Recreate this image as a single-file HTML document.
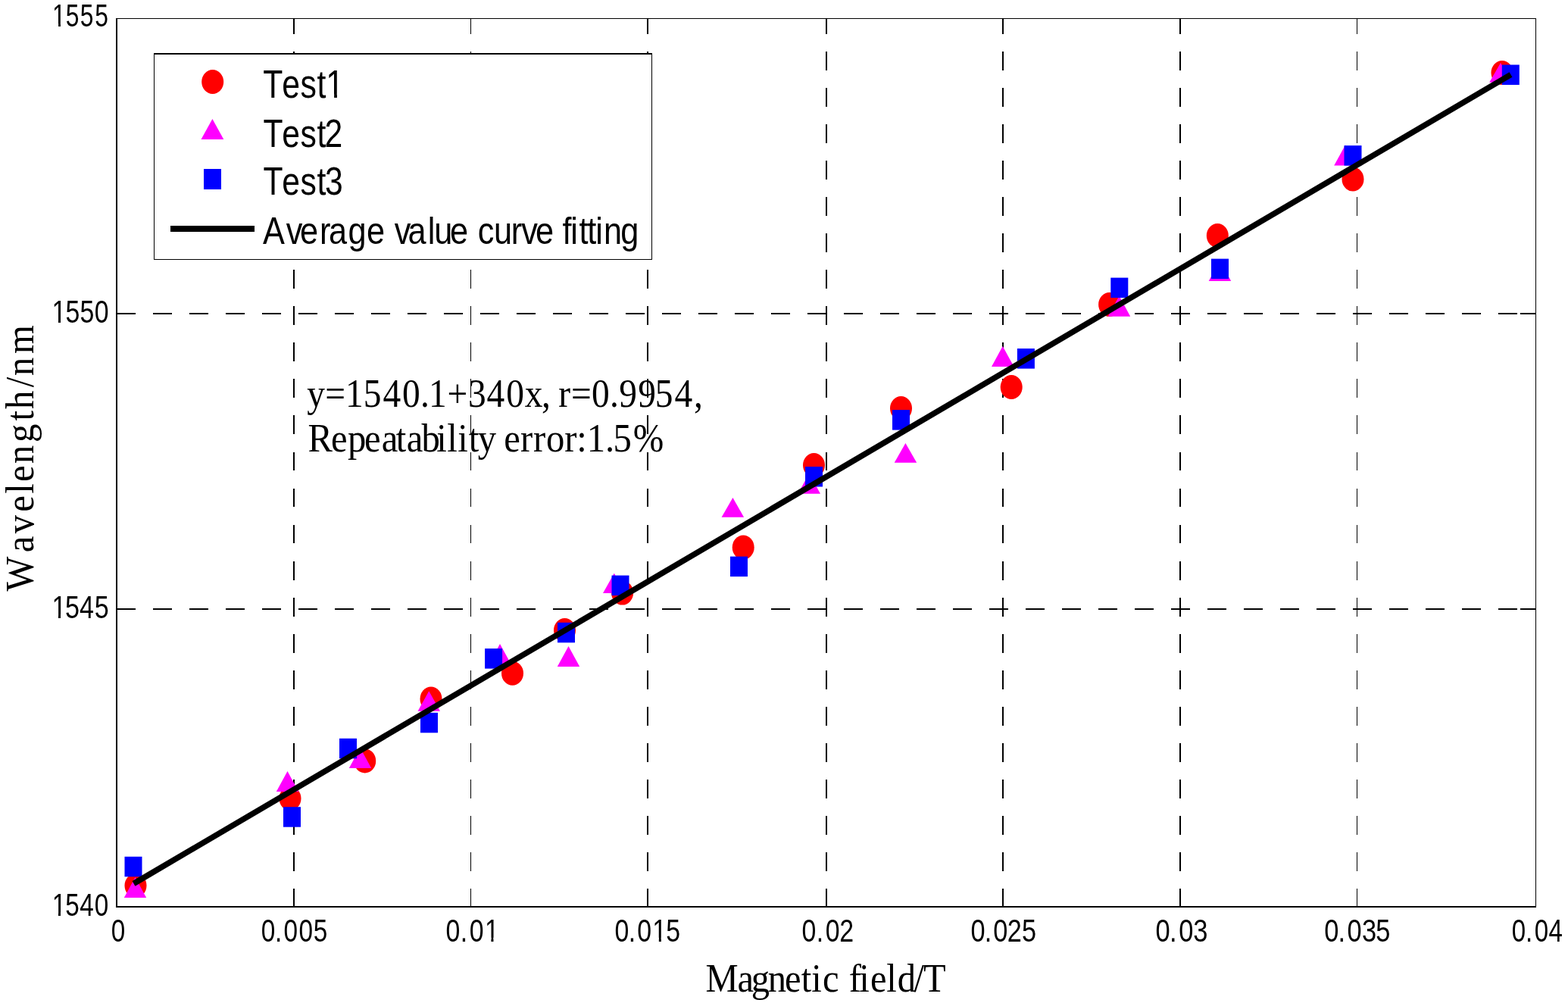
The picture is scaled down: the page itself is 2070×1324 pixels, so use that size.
<!DOCTYPE html>
<html><head><meta charset="utf-8"><title>Wavelength vs Magnetic field</title>
<style>html,body{margin:0;padding:0;background:#fff;overflow:hidden}svg{display:block}text{font-variant-ligatures:none;font-kerning:none}</style>
</head><body>
<svg width="2070" height="1324" viewBox="0 0 2070 1324">
<rect width="2070" height="1324" fill="#fff"/>
<g shape-rendering="crispEdges">
<rect x="387" y="24" width="2" height="21" fill="#000"/>
<rect x="387" y="68" width="2" height="25" fill="#000"/>
<rect x="387" y="116" width="2" height="25" fill="#000"/>
<rect x="387" y="164" width="2" height="25" fill="#000"/>
<rect x="387" y="212" width="2" height="25" fill="#000"/>
<rect x="387" y="260" width="2" height="25" fill="#000"/>
<rect x="387" y="308" width="2" height="25" fill="#000"/>
<rect x="387" y="356" width="2" height="25" fill="#000"/>
<rect x="387" y="404" width="2" height="25" fill="#000"/>
<rect x="387" y="452" width="2" height="25" fill="#000"/>
<rect x="387" y="500" width="2" height="25" fill="#000"/>
<rect x="387" y="548" width="2" height="25" fill="#000"/>
<rect x="387" y="597" width="2" height="24" fill="#000"/>
<rect x="387" y="645" width="2" height="24" fill="#000"/>
<rect x="387" y="693" width="2" height="24" fill="#000"/>
<rect x="387" y="741" width="2" height="25" fill="#000"/>
<rect x="387" y="789" width="2" height="25" fill="#000"/>
<rect x="387" y="837" width="2" height="25" fill="#000"/>
<rect x="387" y="885" width="2" height="25" fill="#000"/>
<rect x="387" y="933" width="2" height="25" fill="#000"/>
<rect x="387" y="981" width="2" height="25" fill="#000"/>
<rect x="387" y="1029" width="2" height="25" fill="#000"/>
<rect x="387" y="1077" width="2" height="25" fill="#000"/>
<rect x="387" y="1125" width="2" height="25" fill="#000"/>
<rect x="387" y="1173" width="2" height="24" fill="#000"/>
<rect x="621" y="24" width="1" height="21" fill="#000"/>
<rect x="621" y="68" width="1" height="25" fill="#000"/>
<rect x="621" y="116" width="1" height="25" fill="#000"/>
<rect x="621" y="164" width="1" height="25" fill="#000"/>
<rect x="621" y="212" width="1" height="25" fill="#000"/>
<rect x="621" y="260" width="1" height="25" fill="#000"/>
<rect x="621" y="308" width="1" height="25" fill="#000"/>
<rect x="621" y="356" width="1" height="25" fill="#000"/>
<rect x="621" y="404" width="1" height="25" fill="#000"/>
<rect x="621" y="452" width="1" height="25" fill="#000"/>
<rect x="621" y="500" width="1" height="25" fill="#000"/>
<rect x="621" y="548" width="1" height="25" fill="#000"/>
<rect x="621" y="597" width="1" height="24" fill="#000"/>
<rect x="621" y="645" width="1" height="24" fill="#000"/>
<rect x="621" y="693" width="1" height="24" fill="#000"/>
<rect x="621" y="741" width="1" height="25" fill="#000"/>
<rect x="621" y="789" width="1" height="25" fill="#000"/>
<rect x="621" y="837" width="1" height="25" fill="#000"/>
<rect x="621" y="885" width="1" height="25" fill="#000"/>
<rect x="621" y="933" width="1" height="25" fill="#000"/>
<rect x="621" y="981" width="1" height="25" fill="#000"/>
<rect x="621" y="1029" width="1" height="25" fill="#000"/>
<rect x="621" y="1077" width="1" height="25" fill="#000"/>
<rect x="621" y="1125" width="1" height="25" fill="#000"/>
<rect x="621" y="1173" width="1" height="24" fill="#000"/>
<rect x="854" y="24" width="2" height="21" fill="#000"/>
<rect x="854" y="68" width="2" height="25" fill="#000"/>
<rect x="854" y="116" width="2" height="25" fill="#000"/>
<rect x="854" y="164" width="2" height="25" fill="#000"/>
<rect x="854" y="212" width="2" height="25" fill="#000"/>
<rect x="854" y="260" width="2" height="25" fill="#000"/>
<rect x="854" y="308" width="2" height="25" fill="#000"/>
<rect x="854" y="356" width="2" height="25" fill="#000"/>
<rect x="854" y="404" width="2" height="25" fill="#000"/>
<rect x="854" y="452" width="2" height="25" fill="#000"/>
<rect x="854" y="500" width="2" height="25" fill="#000"/>
<rect x="854" y="548" width="2" height="25" fill="#000"/>
<rect x="854" y="597" width="2" height="24" fill="#000"/>
<rect x="854" y="645" width="2" height="24" fill="#000"/>
<rect x="854" y="693" width="2" height="24" fill="#000"/>
<rect x="854" y="741" width="2" height="25" fill="#000"/>
<rect x="854" y="789" width="2" height="25" fill="#000"/>
<rect x="854" y="837" width="2" height="25" fill="#000"/>
<rect x="854" y="885" width="2" height="25" fill="#000"/>
<rect x="854" y="933" width="2" height="25" fill="#000"/>
<rect x="854" y="981" width="2" height="25" fill="#000"/>
<rect x="854" y="1029" width="2" height="25" fill="#000"/>
<rect x="854" y="1077" width="2" height="25" fill="#000"/>
<rect x="854" y="1125" width="2" height="25" fill="#000"/>
<rect x="854" y="1173" width="2" height="24" fill="#000"/>
<rect x="1090" y="24" width="2" height="21" fill="#000"/>
<rect x="1090" y="68" width="2" height="25" fill="#000"/>
<rect x="1090" y="116" width="2" height="25" fill="#000"/>
<rect x="1090" y="164" width="2" height="25" fill="#000"/>
<rect x="1090" y="212" width="2" height="25" fill="#000"/>
<rect x="1090" y="260" width="2" height="25" fill="#000"/>
<rect x="1090" y="308" width="2" height="25" fill="#000"/>
<rect x="1090" y="356" width="2" height="25" fill="#000"/>
<rect x="1090" y="404" width="2" height="25" fill="#000"/>
<rect x="1090" y="452" width="2" height="25" fill="#000"/>
<rect x="1090" y="500" width="2" height="25" fill="#000"/>
<rect x="1090" y="548" width="2" height="25" fill="#000"/>
<rect x="1090" y="597" width="2" height="24" fill="#000"/>
<rect x="1090" y="645" width="2" height="24" fill="#000"/>
<rect x="1090" y="693" width="2" height="24" fill="#000"/>
<rect x="1090" y="741" width="2" height="25" fill="#000"/>
<rect x="1090" y="789" width="2" height="25" fill="#000"/>
<rect x="1090" y="837" width="2" height="25" fill="#000"/>
<rect x="1090" y="885" width="2" height="25" fill="#000"/>
<rect x="1090" y="933" width="2" height="25" fill="#000"/>
<rect x="1090" y="981" width="2" height="25" fill="#000"/>
<rect x="1090" y="1029" width="2" height="25" fill="#000"/>
<rect x="1090" y="1077" width="2" height="25" fill="#000"/>
<rect x="1090" y="1125" width="2" height="25" fill="#000"/>
<rect x="1090" y="1173" width="2" height="24" fill="#000"/>
<rect x="1323" y="24" width="2" height="21" fill="#000"/>
<rect x="1323" y="68" width="2" height="25" fill="#000"/>
<rect x="1323" y="116" width="2" height="25" fill="#000"/>
<rect x="1323" y="164" width="2" height="25" fill="#000"/>
<rect x="1323" y="212" width="2" height="25" fill="#000"/>
<rect x="1323" y="260" width="2" height="25" fill="#000"/>
<rect x="1323" y="308" width="2" height="25" fill="#000"/>
<rect x="1323" y="356" width="2" height="25" fill="#000"/>
<rect x="1323" y="404" width="2" height="25" fill="#000"/>
<rect x="1323" y="452" width="2" height="25" fill="#000"/>
<rect x="1323" y="500" width="2" height="25" fill="#000"/>
<rect x="1323" y="548" width="2" height="25" fill="#000"/>
<rect x="1323" y="597" width="2" height="24" fill="#000"/>
<rect x="1323" y="645" width="2" height="24" fill="#000"/>
<rect x="1323" y="693" width="2" height="24" fill="#000"/>
<rect x="1323" y="741" width="2" height="25" fill="#000"/>
<rect x="1323" y="789" width="2" height="25" fill="#000"/>
<rect x="1323" y="837" width="2" height="25" fill="#000"/>
<rect x="1323" y="885" width="2" height="25" fill="#000"/>
<rect x="1323" y="933" width="2" height="25" fill="#000"/>
<rect x="1323" y="981" width="2" height="25" fill="#000"/>
<rect x="1323" y="1029" width="2" height="25" fill="#000"/>
<rect x="1323" y="1077" width="2" height="25" fill="#000"/>
<rect x="1323" y="1125" width="2" height="25" fill="#000"/>
<rect x="1323" y="1173" width="2" height="24" fill="#000"/>
<rect x="1557" y="24" width="2" height="21" fill="#000"/>
<rect x="1557" y="68" width="2" height="25" fill="#000"/>
<rect x="1557" y="116" width="2" height="25" fill="#000"/>
<rect x="1557" y="164" width="2" height="25" fill="#000"/>
<rect x="1557" y="212" width="2" height="25" fill="#000"/>
<rect x="1557" y="260" width="2" height="25" fill="#000"/>
<rect x="1557" y="308" width="2" height="25" fill="#000"/>
<rect x="1557" y="356" width="2" height="25" fill="#000"/>
<rect x="1557" y="404" width="2" height="25" fill="#000"/>
<rect x="1557" y="452" width="2" height="25" fill="#000"/>
<rect x="1557" y="500" width="2" height="25" fill="#000"/>
<rect x="1557" y="548" width="2" height="25" fill="#000"/>
<rect x="1557" y="597" width="2" height="24" fill="#000"/>
<rect x="1557" y="645" width="2" height="24" fill="#000"/>
<rect x="1557" y="693" width="2" height="24" fill="#000"/>
<rect x="1557" y="741" width="2" height="25" fill="#000"/>
<rect x="1557" y="789" width="2" height="25" fill="#000"/>
<rect x="1557" y="837" width="2" height="25" fill="#000"/>
<rect x="1557" y="885" width="2" height="25" fill="#000"/>
<rect x="1557" y="933" width="2" height="25" fill="#000"/>
<rect x="1557" y="981" width="2" height="25" fill="#000"/>
<rect x="1557" y="1029" width="2" height="25" fill="#000"/>
<rect x="1557" y="1077" width="2" height="25" fill="#000"/>
<rect x="1557" y="1125" width="2" height="25" fill="#000"/>
<rect x="1557" y="1173" width="2" height="24" fill="#000"/>
<rect x="1791" y="24" width="1" height="21" fill="#000"/>
<rect x="1791" y="68" width="1" height="25" fill="#000"/>
<rect x="1791" y="116" width="1" height="25" fill="#000"/>
<rect x="1791" y="164" width="1" height="25" fill="#000"/>
<rect x="1791" y="212" width="1" height="25" fill="#000"/>
<rect x="1791" y="260" width="1" height="25" fill="#000"/>
<rect x="1791" y="308" width="1" height="25" fill="#000"/>
<rect x="1791" y="356" width="1" height="25" fill="#000"/>
<rect x="1791" y="404" width="1" height="25" fill="#000"/>
<rect x="1791" y="452" width="1" height="25" fill="#000"/>
<rect x="1791" y="500" width="1" height="25" fill="#000"/>
<rect x="1791" y="548" width="1" height="25" fill="#000"/>
<rect x="1791" y="597" width="1" height="24" fill="#000"/>
<rect x="1791" y="645" width="1" height="24" fill="#000"/>
<rect x="1791" y="693" width="1" height="24" fill="#000"/>
<rect x="1791" y="741" width="1" height="25" fill="#000"/>
<rect x="1791" y="789" width="1" height="25" fill="#000"/>
<rect x="1791" y="837" width="1" height="25" fill="#000"/>
<rect x="1791" y="885" width="1" height="25" fill="#000"/>
<rect x="1791" y="933" width="1" height="25" fill="#000"/>
<rect x="1791" y="981" width="1" height="25" fill="#000"/>
<rect x="1791" y="1029" width="1" height="25" fill="#000"/>
<rect x="1791" y="1077" width="1" height="25" fill="#000"/>
<rect x="1791" y="1125" width="1" height="25" fill="#000"/>
<rect x="1791" y="1173" width="1" height="24" fill="#000"/>
<rect x="154" y="413" width="25" height="2" fill="#000"/>
<rect x="202" y="413" width="25" height="2" fill="#000"/>
<rect x="250" y="413" width="25" height="2" fill="#000"/>
<rect x="298" y="413" width="25" height="2" fill="#000"/>
<rect x="346" y="413" width="25" height="2" fill="#000"/>
<rect x="394" y="413" width="25" height="2" fill="#000"/>
<rect x="442" y="413" width="25" height="2" fill="#000"/>
<rect x="490" y="413" width="25" height="2" fill="#000"/>
<rect x="538" y="413" width="25" height="2" fill="#000"/>
<rect x="586" y="413" width="25" height="2" fill="#000"/>
<rect x="634" y="413" width="25" height="2" fill="#000"/>
<rect x="682" y="413" width="25" height="2" fill="#000"/>
<rect x="730" y="413" width="25" height="2" fill="#000"/>
<rect x="778" y="413" width="25" height="2" fill="#000"/>
<rect x="826" y="413" width="25" height="2" fill="#000"/>
<rect x="874" y="413" width="25" height="2" fill="#000"/>
<rect x="922" y="413" width="25" height="2" fill="#000"/>
<rect x="970" y="413" width="25" height="2" fill="#000"/>
<rect x="1018" y="413" width="25" height="2" fill="#000"/>
<rect x="1066" y="413" width="25" height="2" fill="#000"/>
<rect x="1114" y="413" width="25" height="2" fill="#000"/>
<rect x="1162" y="413" width="25" height="2" fill="#000"/>
<rect x="1210" y="413" width="25" height="2" fill="#000"/>
<rect x="1258" y="413" width="25" height="2" fill="#000"/>
<rect x="1306" y="413" width="25" height="2" fill="#000"/>
<rect x="1354" y="413" width="25" height="2" fill="#000"/>
<rect x="1402" y="413" width="25" height="2" fill="#000"/>
<rect x="1450" y="413" width="25" height="2" fill="#000"/>
<rect x="1498" y="413" width="25" height="2" fill="#000"/>
<rect x="1546" y="413" width="25" height="2" fill="#000"/>
<rect x="1594" y="413" width="25" height="2" fill="#000"/>
<rect x="1642" y="413" width="25" height="2" fill="#000"/>
<rect x="1690" y="413" width="25" height="2" fill="#000"/>
<rect x="1738" y="413" width="25" height="2" fill="#000"/>
<rect x="1786" y="413" width="25" height="2" fill="#000"/>
<rect x="1834" y="413" width="25" height="2" fill="#000"/>
<rect x="1882" y="413" width="25" height="2" fill="#000"/>
<rect x="1930" y="413" width="25" height="2" fill="#000"/>
<rect x="1978" y="413" width="25" height="2" fill="#000"/>
<rect x="2026" y="413" width="1" height="2" fill="#000"/>
<rect x="2007" y="413" width="20" height="2" fill="#000"/>
<rect x="154" y="803" width="25" height="2" fill="#000"/>
<rect x="202" y="803" width="25" height="2" fill="#000"/>
<rect x="250" y="803" width="25" height="2" fill="#000"/>
<rect x="298" y="803" width="25" height="2" fill="#000"/>
<rect x="346" y="803" width="25" height="2" fill="#000"/>
<rect x="394" y="803" width="25" height="2" fill="#000"/>
<rect x="442" y="803" width="25" height="2" fill="#000"/>
<rect x="490" y="803" width="25" height="2" fill="#000"/>
<rect x="538" y="803" width="25" height="2" fill="#000"/>
<rect x="586" y="803" width="25" height="2" fill="#000"/>
<rect x="634" y="803" width="25" height="2" fill="#000"/>
<rect x="682" y="803" width="25" height="2" fill="#000"/>
<rect x="730" y="803" width="25" height="2" fill="#000"/>
<rect x="778" y="803" width="25" height="2" fill="#000"/>
<rect x="826" y="803" width="25" height="2" fill="#000"/>
<rect x="874" y="803" width="25" height="2" fill="#000"/>
<rect x="922" y="803" width="25" height="2" fill="#000"/>
<rect x="970" y="803" width="25" height="2" fill="#000"/>
<rect x="1018" y="803" width="25" height="2" fill="#000"/>
<rect x="1066" y="803" width="25" height="2" fill="#000"/>
<rect x="1114" y="803" width="25" height="2" fill="#000"/>
<rect x="1162" y="803" width="25" height="2" fill="#000"/>
<rect x="1210" y="803" width="25" height="2" fill="#000"/>
<rect x="1258" y="803" width="25" height="2" fill="#000"/>
<rect x="1306" y="803" width="25" height="2" fill="#000"/>
<rect x="1354" y="803" width="25" height="2" fill="#000"/>
<rect x="1402" y="803" width="25" height="2" fill="#000"/>
<rect x="1450" y="803" width="25" height="2" fill="#000"/>
<rect x="1498" y="803" width="25" height="2" fill="#000"/>
<rect x="1546" y="803" width="25" height="2" fill="#000"/>
<rect x="1594" y="803" width="25" height="2" fill="#000"/>
<rect x="1642" y="803" width="25" height="2" fill="#000"/>
<rect x="1690" y="803" width="25" height="2" fill="#000"/>
<rect x="1738" y="803" width="25" height="2" fill="#000"/>
<rect x="1786" y="803" width="25" height="2" fill="#000"/>
<rect x="1834" y="803" width="25" height="2" fill="#000"/>
<rect x="1882" y="803" width="25" height="2" fill="#000"/>
<rect x="1930" y="803" width="25" height="2" fill="#000"/>
<rect x="1978" y="803" width="25" height="2" fill="#000"/>
<rect x="2026" y="803" width="1" height="2" fill="#000"/>
<rect x="2007" y="803" width="20" height="2" fill="#000"/>
</g>
<g>
<clipPath id="nf1" clipPathUnits="userSpaceOnUse"><path d="M-100000,-1000H100000V1000H-100000ZM94.53,-4.81H104.09V4H94.53ZM107.89,-4.81H117.42V4H107.89Z" clip-rule="evenodd"/></clipPath><text transform="translate(0,35.48) scale(0.7407,1)" x="93.27 117.09 142.61 168.94" y="0" font-family="'Liberation Sans', Arial, sans-serif" font-size="43.0" clip-path="url(#nf1)">1555</text>
<clipPath id="nf2" clipPathUnits="userSpaceOnUse"><path d="M-100000,-1000H100000V1000H-100000ZM88.15,-4.81H97.70V4H88.15ZM101.50,-4.81H111.04V4H101.50Z" clip-rule="evenodd"/></clipPath><text transform="translate(0,425.52) scale(0.7881,1)" x="86.89 109.64 133.94 158.19" y="0" font-family="'Liberation Sans', Arial, sans-serif" font-size="43.0" clip-path="url(#nf2)">1550</text>
<clipPath id="nf3" clipPathUnits="userSpaceOnUse"><path d="M-100000,-1000H100000V1000H-100000ZM87.34,-4.81H96.89V4H87.34ZM100.69,-4.81H110.22V4H100.69Z" clip-rule="evenodd"/></clipPath><text transform="translate(0,815.58) scale(0.7946,1)" x="86.08 108.33 132.21 156.85" y="0" font-family="'Liberation Sans', Arial, sans-serif" font-size="43.0" clip-path="url(#nf3)">1545</text>
<clipPath id="nf4" clipPathUnits="userSpaceOnUse"><path d="M-100000,-1000H100000V1000H-100000ZM90.03,-4.81H99.58V4H90.03ZM103.38,-4.81H112.92V4H103.38Z" clip-rule="evenodd"/></clipPath><text transform="translate(0,1208.58) scale(0.7735,1)" x="88.77 111.61 136.14 161.21" y="0" font-family="'Liberation Sans', Arial, sans-serif" font-size="43.0" clip-path="url(#nf4)">1540</text>
<text transform="translate(0,1242.6) scale(0.7790,1)" x="188.33" y="0" font-family="'Liberation Sans', Arial, sans-serif" font-size="42.7">0</text>
<text transform="translate(0,1242.6) scale(0.7814,1)" x="441.22 464.43 479.42 504.82 529.43" y="0" font-family="'Liberation Sans', Arial, sans-serif" font-size="42.7">0.005</text>
<clipPath id="nf5" clipPathUnits="userSpaceOnUse"><path d="M-100000,-1000H100000V1000H-100000ZM807.49,-4.79H816.98V4H807.49ZM820.75,-4.79H830.22V4H820.75Z" clip-rule="evenodd"/></clipPath><text transform="translate(0,1242.6) scale(0.7937,1)" x="741.35 765.68 780.91 806.24" y="0" font-family="'Liberation Sans', Arial, sans-serif" font-size="42.7" clip-path="url(#nf5)">0.01</text>
<clipPath id="nf6" clipPathUnits="userSpaceOnUse"><path d="M-100000,-1000H100000V1000H-100000ZM1086.45,-4.79H1095.94V4H1086.45ZM1099.71,-4.79H1109.18V4H1099.71Z" clip-rule="evenodd"/></clipPath><text transform="translate(0,1242.6) scale(0.7937,1)" x="1022.57 1045.53 1059.87 1085.20 1107.73" y="0" font-family="'Liberation Sans', Arial, sans-serif" font-size="42.7" clip-path="url(#nf6)">0.015</text>
<text transform="translate(0,1242.6) scale(0.7937,1)" x="1333.54 1357.88 1373.10 1396.22" y="0" font-family="'Liberation Sans', Arial, sans-serif" font-size="42.7">0.02</text>
<text transform="translate(0,1242.6) scale(0.8035,1)" x="1594.93 1617.68 1631.77 1654.86 1679.05" y="0" font-family="'Liberation Sans', Arial, sans-serif" font-size="42.7">0.025</text>
<text transform="translate(0,1242.6) scale(0.8084,1)" x="1887.10 1909.99 1925.14 1948.71" y="0" font-family="'Liberation Sans', Arial, sans-serif" font-size="42.7">0.03</text>
<text transform="translate(0,1242.6) scale(0.8059,1)" x="2169.46 2192.02 2206.99 2231.00 2253.75" y="0" font-family="'Liberation Sans', Arial, sans-serif" font-size="42.7">0.035</text>
<text transform="translate(0,1242.6) scale(0.7741,1)" x="2578.22 2601.74 2616.98 2641.15" y="0" font-family="'Liberation Sans', Arial, sans-serif" font-size="42.7">0.04</text>
<text transform="translate(0,536.77) scale(0.9014,1)" x="449.72 476.13 505.84 532.14 560.77 589.16 615.70 627.86 655.12 685.50 712.69 741.25 768.52 793.24 806.39 818.01 836.55 866.49 893.09 906.77 934.39 959.23 987.92 1016.27" y="0" font-family="'Liberation Serif', 'Times New Roman', serif" font-size="52.61">y=1540.1+340x, r=0.9954,</text>
<text transform="translate(0,595.77) scale(0.9367,1)" x="433.99 466.60 489.92 513.63 537.68 558.04 572.92 593.98 615.32 630.10 645.05 660.48 673.44 699.43 710.12 733.54 751.69 769.63 795.52 812.83 827.04 852.95 864.10 892.19" y="0" font-family="'Liberation Serif', 'Times New Roman', serif" font-size="51.98">Repeatability error:1.5%</text>
<text transform="translate(0,1309.38) scale(0.9330,1)" x="998.40 1043.50 1063.04 1086.66 1110.45 1133.70 1148.22 1163.97 1187.06 1201.24 1215.64 1231.57 1254.22 1269.74 1293.13 1306.56" y="0" font-family="'Liberation Serif', 'Times New Roman', serif" font-size="52.02">Magnetic field/T</text>
<text transform="translate(43.6,779.1) rotate(-90) scale(0.925,1)" x="-1.39 53.98 81.01 111.67 137.67 154.81 180.70 210.98 241.83 258.45 289.61 305.94 337.29" y="0" font-family="'Liberation Serif', 'Times New Roman', serif" font-size="52.6">Wavelength/nm</text>
</g>
<g>
<ellipse cx="179" cy="1169" rx="14.5" ry="16" fill="#ff0000"/>
<ellipse cx="383" cy="1054" rx="14.5" ry="16" fill="#ff0000"/>
<ellipse cx="481.7" cy="1004.4" rx="14.5" ry="16" fill="#ff0000"/>
<ellipse cx="569" cy="922.6" rx="14.5" ry="16" fill="#ff0000"/>
<ellipse cx="676.5" cy="888.7" rx="14.5" ry="16" fill="#ff0000"/>
<ellipse cx="745.5" cy="832" rx="14.5" ry="16" fill="#ff0000"/>
<ellipse cx="821.6" cy="782.6" rx="14.5" ry="16" fill="#ff0000"/>
<ellipse cx="981.2" cy="722.6" rx="14.5" ry="16" fill="#ff0000"/>
<ellipse cx="1074.5" cy="614" rx="14.5" ry="16" fill="#ff0000"/>
<ellipse cx="1189.5" cy="539" rx="14.5" ry="16" fill="#ff0000"/>
<ellipse cx="1335.2" cy="511" rx="14.5" ry="16" fill="#ff0000"/>
<ellipse cx="1464.6" cy="402" rx="14.5" ry="16" fill="#ff0000"/>
<ellipse cx="1607.3" cy="311" rx="14.5" ry="16" fill="#ff0000"/>
<ellipse cx="1786" cy="236.5" rx="14.5" ry="16" fill="#ff0000"/>
<ellipse cx="1983" cy="96" rx="14.5" ry="16" fill="#ff0000"/>
<polygon points="163.8,1185 178.5,1158 193.2,1185" fill="#ff00ff"/>
<polygon points="364.8,1045 379.5,1018 394.2,1045" fill="#ff00ff"/>
<polygon points="460.8,1014 475.5,987 490.2,1014" fill="#ff00ff"/>
<polygon points="551.5,938.7 566.3,912.2 581.0,938.7" fill="#ff00ff"/>
<polygon points="645.2,877 660.0,850 674.8,877" fill="#ff00ff"/>
<polygon points="735.8,880 750.5,853 765.2,880" fill="#ff00ff"/>
<polygon points="796.0,782.9 810.8,756.7 825.5,782.9" fill="#ff00ff"/>
<polygon points="952.6,682.8 967.4,656.9 982.1,682.8" fill="#ff00ff"/>
<polygon points="1053.5,651.8 1068.2,624.8 1083.0,651.8" fill="#ff00ff"/>
<polygon points="1180.7,610.8 1195.4,584.9 1210.2,610.8" fill="#ff00ff"/>
<polygon points="1309.0,484 1323.7,456.9 1338.5,484" fill="#ff00ff"/>
<polygon points="1462.8,417.7 1477.5,390.5 1492.2,417.7" fill="#ff00ff"/>
<polygon points="1595.7,370.9 1610.4,344 1625.2,370.9" fill="#ff00ff"/>
<polygon points="1761.2,218.5 1776.0,191.5 1790.8,218.5" fill="#ff00ff"/>
<polygon points="1966.2,108.7 1981.0,83 1995.8,108.7" fill="#ff00ff"/>
<rect x="164.5" y="1130.8" width="23" height="26.5" fill="#0000ff"/>
<rect x="374.0" y="1065.2" width="23" height="26.5" fill="#0000ff"/>
<rect x="448.0" y="974.8" width="23" height="26.5" fill="#0000ff"/>
<rect x="555.0" y="940.8" width="23" height="26.5" fill="#0000ff"/>
<rect x="640.1" y="856.1" width="23" height="26.5" fill="#0000ff"/>
<rect x="736.0" y="821.8" width="23" height="26.5" fill="#0000ff"/>
<rect x="807.5" y="759.6" width="23" height="26.5" fill="#0000ff"/>
<rect x="964.0" y="734.6" width="23" height="26.5" fill="#0000ff"/>
<rect x="1063.0" y="616.0" width="23" height="26.5" fill="#0000ff"/>
<rect x="1178.0" y="541.1" width="23" height="26.5" fill="#0000ff"/>
<rect x="1342.9" y="460.1" width="23" height="26.5" fill="#0000ff"/>
<rect x="1466.3" y="366.6" width="23" height="26.5" fill="#0000ff"/>
<rect x="1599.0" y="341.6" width="23" height="26.5" fill="#0000ff"/>
<rect x="1774.5" y="192.1" width="23" height="26.5" fill="#0000ff"/>
<rect x="1982.8" y="85.5" width="23" height="26.5" fill="#0000ff"/>
</g>
<line x1="176.5" y1="1166.4" x2="1994.5" y2="98.5" stroke="#000" stroke-width="7.6"/>
<g shape-rendering="crispEdges">
<rect x="153" y="24" width="1875" height="1" fill="#000"/>
<rect x="153" y="1196" width="1875" height="2" fill="#000"/>
<rect x="153" y="24" width="2" height="1174" fill="#000"/>
<rect x="2027" y="24" width="1" height="1174" fill="#000"/>
</g>
<rect x="203.5" y="71" width="657" height="271.5" fill="#fff"/>
<rect x="203" y="70" width="658" height="2" fill="#000"/>
<rect x="203" y="342" width="658" height="1" fill="#000"/>
<rect x="203" y="70" width="1" height="273" fill="#000"/>
<rect x="860" y="70" width="1" height="273" fill="#000"/>
<ellipse cx="280.7" cy="108" rx="14.5" ry="16" fill="#ff0000"/>
<polygon points="265.5,184 280.4,157 295.3,184" fill="#ff00ff"/>
<rect x="269" y="223" width="23" height="27" fill="#0000ff"/>
<rect x="225" y="298" width="111" height="8" fill="#000"/>
<clipPath id="nf7" clipPathUnits="userSpaceOnUse"><path d="M-100000,-1000H100000V1000H-100000ZM515.80,-5.42H527.16V4H515.80ZM531.67,-5.42H543.00V4H531.67Z" clip-rule="evenodd"/></clipPath><text transform="translate(0,129.04999999999998) scale(0.8368,1)" x="415.11 444.80 473.83 500.07 514.31" y="0" font-family="'Liberation Sans', Arial, sans-serif" font-size="51.1" clip-path="url(#nf7)">Test1</text>
<text transform="translate(0,193.92) scale(0.8353,1)" x="415.88 445.62 474.70 500.97 513.10" y="0" font-family="'Liberation Sans', Arial, sans-serif" font-size="51.1">Test2</text>
<text transform="translate(0,257.08) scale(0.8353,1)" x="415.88 445.62 474.70 500.97 513.67" y="0" font-family="'Liberation Sans', Arial, sans-serif" font-size="51.1">Test3</text>
<text transform="translate(0,321.95000000000005) scale(0.8750,1)" x="396.49 431.82 452.54 482.32 495.96 525.05 553.11 580.62 595.14 615.33 645.43 655.16 678.78 706.28 720.92 745.28 771.19 786.46 808.09 835.60 848.66 860.89 873.59 886.11 898.55 910.87 936.32" y="0" font-family="'Liberation Sans', Arial, sans-serif" font-size="49.46">Average value curve fitting</text>
</svg>
</body></html>
